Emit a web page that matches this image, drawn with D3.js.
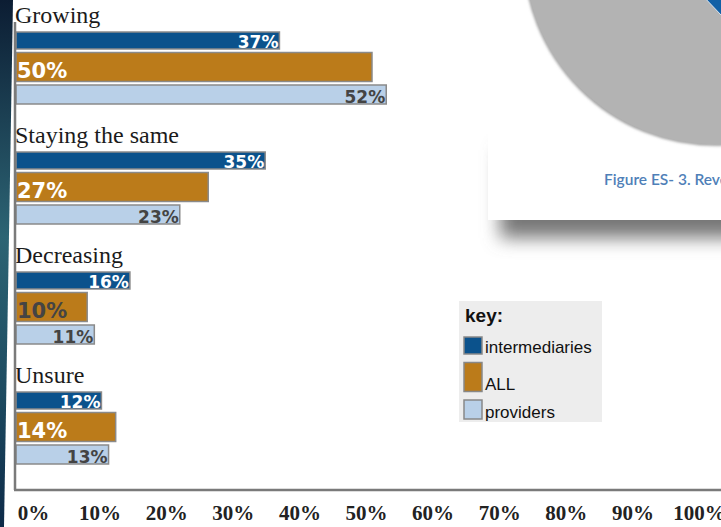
<!DOCTYPE html>
<html>
<head>
<meta charset="utf-8">
<script src="https://cdn.jsdelivr.net/npm/d3@7"></script>
<style>
   body { margin: 0; background: #fff; }
   svg { display: block; }
</style>
</head>
<body>
<svg class="outlook" width="721" height="527"></svg>
<script>
// DATA
var categories = ['Growing', 'Staying the same', 'Decreasing', 'Unsure'];
var seriesNames = ['intermediaries', 'ALL', 'providers'];
var intermediariesValues = [37, 35, 16, 12];
var allValues = [50, 27, 10, 14];
var providersValues = [52, 23, 11, 13];
var tickValues = [0, 10, 20, 30, 40, 50, 60, 70, 80, 90, 100];

var seriesValues = {
   intermediaries: intermediariesValues,
   ALL: allValues,
   providers: providersValues
};

// STYLE
var seriesStyle = {
   intermediaries: {fill: '#0b528c', height: 17, labelSize: 17, labelAt: 'end', labelColor: '#fff'},
   ALL: {fill: '#bb7b1a', height: 29, labelSize: 21, labelAt: 'start', labelColor: '#fff', darkBelow: 11},
   providers: {fill: '#b9d0e8', height: 19, labelSize: 17, labelAt: 'end', labelColor: '#444'}
};
var barGap = 3.5;

(function drawChart() {
   var svg = d3.select('svg.outlook');
   var defs = svg.append('defs');

   defs.append('filter')
      .attr('id', 'soft')
      .attr('x', '-50%').attr('y', '-50%').attr('width', '200%').attr('height', '200%')
      .append('feGaussianBlur').attr('stdDeviation', 9);

   defs.append('filter')
      .attr('id', 'rim')
      .append('feGaussianBlur').attr('stdDeviation', 1.5);

   var strip = defs.append('linearGradient')
      .attr('id', 'strip').attr('x1', 0).attr('y1', 0).attr('x2', 0).attr('y2', 1);
   strip.append('stop').attr('offset', '0%').attr('stop-color', '#0c1d33');
   strip.append('stop').attr('offset', '45%').attr('stop-color', '#2c6474');
   strip.append('stop').attr('offset', '75%').attr('stop-color', '#1d4a60');
   strip.append('stop').attr('offset', '100%').attr('stop-color', '#0d2a48');

   // dark page edge on the left
   svg.append('path')
      .attr('d', 'M0,0 L13,0 L4,527 L0,527 Z')
      .attr('fill', 'url(#strip)');

   // the card of the other figure, top right
   svg.append('rect')
      .attr('x', 500).attr('y', 150).attr('width', 260).attr('height', 88)
      .attr('fill', '#777')
      .attr('filter', 'url(#soft)');

   svg.append('rect')
      .attr('x', 488).attr('y', -5).attr('width', 240).attr('height', 225)
      .attr('fill', '#fff');

   defs.append('clipPath').attr('id', 'disc')
      .append('circle').attr('cx', 715).attr('cy', -46).attr('r', 190);

   var arc = d3.arc();

   svg.append('path')
      .attr('transform', 'translate(715,-46)')
      .attr('d', arc({innerRadius: 0, outerRadius: 190, startAngle: 0, endAngle: 2 * Math.PI}))
      .attr('fill', 'none')
      .attr('stroke', '#8e8e8e')
      .attr('stroke-width', 3)
      .attr('filter', 'url(#rim)');

   svg.append('path')
      .attr('transform', 'translate(715,-46)')
      .attr('d', arc({innerRadius: 0, outerRadius: 190, startAngle: 0, endAngle: 2 * Math.PI}))
      .attr('fill', '#b3b3b3');

   svg.append('g')
      .attr('clip-path', 'url(#disc)')
      .append('path')
      .attr('transform', 'translate(640,-70)')
      .attr('d', arc({innerRadius: 0, outerRadius: 160, startAngle: 1.9, endAngle: 2.38}))
      .attr('fill', '#1160a6')
      .attr('stroke', '#dde5ee')
      .attr('stroke-width', 1);

   svg.append('text')
      .attr('x', 604)
      .attr('y', 185)
      .attr('fill', '#4f7fb8')
      .style('font', '600 15.5px Lato, "Open Sans", sans-serif')
      .text('Figure ES- 3. Reve');

   // SCALES
   var x = d3.scaleLinear().domain([0, 100]).range([16, 728]);
   var tickX = d3.scaleLinear().domain([0, 100]).range([33, 699]);
   var group = d3.scaleBand().domain(categories).range([2, 482]);

   var offsets = {}, acc = 0;
   seriesNames.forEach(function (name) {
      offsets[name] = acc;
      acc += seriesStyle[name].height + barGap;
   });

   var rows = [];
   categories.forEach(function (category, i) {
      seriesNames.forEach(function (name) {
         rows.push({category: category, series: name, value: seriesValues[name][i]});
      });
   });

   var barTop = function (d) {
      return group(d.category) + 30 + offsets[d.series];
   };

   // category labels
   svg.append('g').selectAll('text')
      .data(categories)
      .enter().append('text')
      .attr('x', 15)
      .attr('y', function (d) {
         return group(d) + 21;
      })
      .attr('fill', '#1b1b1b')
      .style('font', '24px "Liberation Serif", "Times New Roman", serif')
      .text(function (d) {
         return d;
      });

   // bars
   svg.append('g').selectAll('rect')
      .data(rows)
      .enter().append('rect')
      .attr('x', x(0))
      .attr('y', barTop)
      .attr('width', function (d) {
         return x(d.value) - x(0);
      })
      .attr('height', function (d) {
         return seriesStyle[d.series].height;
      })
      .attr('fill', function (d) {
         return seriesStyle[d.series].fill;
      })
      .attr('stroke', '#8a8a8a')
      .attr('stroke-width', 1.5);

   // value labels
   svg.append('g').selectAll('text')
      .data(rows)
      .enter().append('text')
      .attr('x', function (d) {
         return seriesStyle[d.series].labelAt === 'end' ? x(d.value) - 1 : x(0) + 1;
      })
      .attr('y', function (d) {
         var style = seriesStyle[d.series];
         return barTop(d) + style.height - (style.labelAt === 'end' ? 1.5 : 4);
      })
      .attr('text-anchor', function (d) {
         return seriesStyle[d.series].labelAt === 'end' ? 'end' : 'start';
      })
      .attr('fill', function (d) {
         var style = seriesStyle[d.series];
         return style.darkBelow && d.value < style.darkBelow ? '#444' : style.labelColor;
      })
      .style('font-family', '"DejaVu Sans", sans-serif')
      .style('font-weight', 'bold')
      .style('font-size', function (d) {
         return seriesStyle[d.series].labelSize + 'px';
      })
      .text(function (d) {
         return d.value + '%';
      });

   // axes lines
   svg.append('line')
      .attr('x1', 15).attr('x2', 15).attr('y1', 22).attr('y2', 490)
      .attr('stroke', '#7a7a7a').attr('stroke-width', 2.5);

   svg.append('line')
      .attr('x1', 14).attr('x2', 721).attr('y1', 490).attr('y2', 490)
      .attr('stroke', '#7a7a7a').attr('stroke-width', 2.5);

   var axis = d3.axisBottom(tickX)
      .tickValues(tickValues)
      .tickSize(0)
      .tickPadding(0)
      .tickFormat(function (d) {
         return d + '%';
      });

   var axisGroup = svg.append('g')
      .attr('transform', 'translate(0,505)')
      .call(axis);

   axisGroup.select('.domain').remove();
   axisGroup.selectAll('text')
      .attr('dy', null)
      .attr('y', 15)
      .attr('fill', '#222')
      .style('font', 'bold 21px "Liberation Serif", "Times New Roman", serif');

   // LEGEND
   var legend = svg.append('g').attr('class', 'legend');

   legend.append('rect')
      .attr('x', 459).attr('y', 301).attr('width', 143).attr('height', 121)
      .attr('fill', '#ededed');

   legend.append('text')
      .attr('x', 465).attr('y', 322)
      .attr('fill', '#111')
      .style('font', 'bold 19px "Liberation Sans", Arial, sans-serif')
      .text('key:');

   var legendTop = {}, top = 337;
   seriesNames.forEach(function (name) {
      legendTop[name] = top;
      top += seriesStyle[name].height + 8.5;
   });

   var item = legend.selectAll('.legendItem')
      .data(seriesNames)
      .enter().append('g')
      .attr('class', 'legendItem');

   item.append('rect')
      .attr('x', 464)
      .attr('y', function (d) {
         return legendTop[d];
      })
      .attr('width', 18)
      .attr('height', function (d) {
         return seriesStyle[d].height;
      })
      .attr('fill', function (d) {
         return seriesStyle[d].fill;
      })
      .attr('stroke', '#888')
      .attr('stroke-width', 1.5);

   item.append('text')
      .attr('x', 485)
      .attr('y', function (d) {
         return legendTop[d] + seriesStyle[d].height - 1.5;
      })
      .attr('fill', '#111')
      .style('font', '17px "Liberation Sans", Arial, sans-serif')
      .text(function (d) {
         return d;
      });
})();
</script>
</body>
</html>
